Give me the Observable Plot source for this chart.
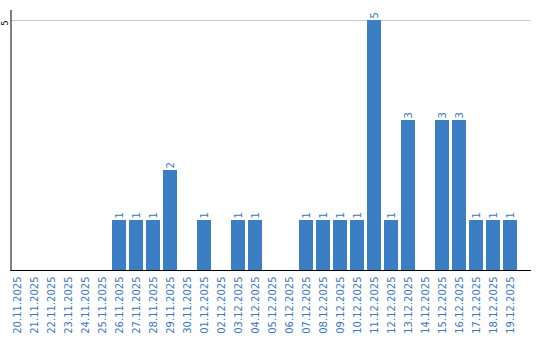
<!DOCTYPE html>
<html>
<head>
<meta charset="utf-8">
<script src="https://cdn.jsdelivr.net/npm/d3@7"></script>
<script src="https://cdn.jsdelivr.net/npm/@observablehq/plot@0.6"></script>
<style>
  html, body { margin: 0; padding: 0; background: #fff; }
  #chart svg { display: block; }
</style>
</head>
<body>
<div id="chart"></div>
<script>
const dates = [
  "20.11.2025","21.11.2025","22.11.2025","23.11.2025","24.11.2025","25.11.2025",
  "26.11.2025","27.11.2025","28.11.2025","29.11.2025","30.11.2025",
  "01.12.2025","02.12.2025","03.12.2025","04.12.2025","05.12.2025","06.12.2025",
  "07.12.2025","08.12.2025","09.12.2025","10.12.2025","11.12.2025","12.12.2025",
  "13.12.2025","14.12.2025","15.12.2025","16.12.2025","17.12.2025","18.12.2025","19.12.2025"
];
const counts = [0,0,0,0,0,0, 1,1,1,2,0, 1,0,1,1,0,0, 1,1,1,1,5,1, 3,0,3,3,1,1,1];
const yTicks = [5];

const data = dates.map((d, i) => ({date: d, count: counts[i]}));
const labeled = data.filter(d => d.count > 0);

const blue = "#3b7ec4";
const labelBlue = "#3a78c0";

const chart = Plot.plot({
  width: 540,
  height: 340,
  marginLeft: 10.5,
  marginRight: 10,
  marginTop: 10,
  marginBottom: 70,
  style: {fontFamily: "DejaVu Sans", background: "#fff"},
  x: {domain: dates, range: [10, 517], paddingInner: 0.18, paddingOuter: 0, align: 0, axis: null},
  y: {domain: [0, 5.2], axis: null},
  marks: [
    Plot.ruleY(yTicks, {stroke: "#c8c8c8", strokeWidth: 1}),
    Plot.barY(data, {x: "date", y: "count", fill: blue}),
    Plot.text(labeled, {x: "date", y: "count", text: d => String(d.count), rotate: -90, textAnchor: "start", dy: -2, fill: labelBlue, fontSize: 10}),
    Plot.axisX({tickRotate: -90, tickSize: 0, tickPadding: 6, fontSize: 10, fill: labelBlue, label: null}),
    Plot.text(yTicks, {y: d => d, frameAnchor: "left", text: d => String(d), rotate: -90, dx: -6, dy: 0, textAnchor: "end", fontSize: 8, fill: "#000"}),
    Plot.frame({anchor: "left", stroke: "#000"}),
    Plot.frame({anchor: "bottom", stroke: "#000"})
  ]
});
document.getElementById("chart").appendChild(chart);
</script>
</body>
</html>
